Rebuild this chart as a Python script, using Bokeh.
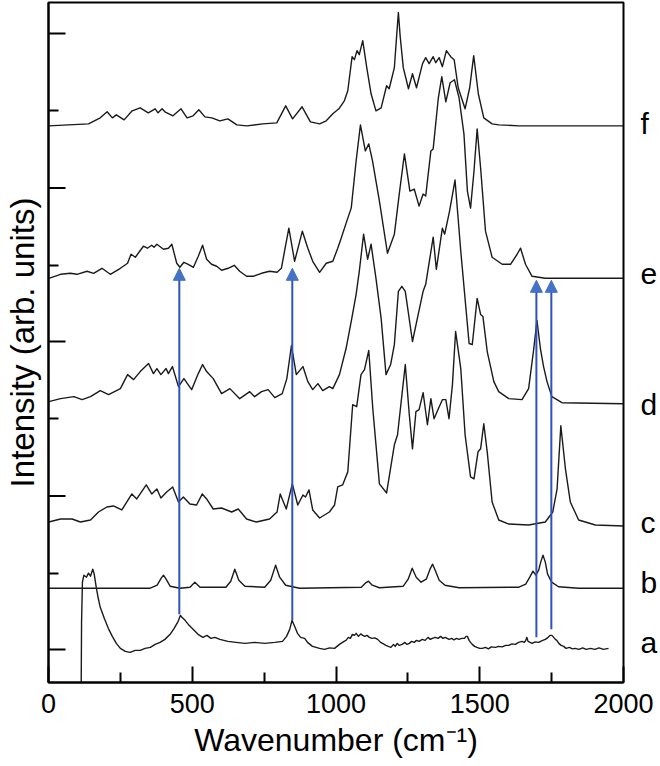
from bokeh.plotting import figure
from bokeh.models import FixedTicker, Range1d, Arrow, NormalHead, LinearAxis
from bokeh.embed import file_html
from bokeh.resources import INLINE

# ---------------- data (wavenumber, stacked intensity in arb. units) ----------------
a_wn = [113, 115, 118, 123, 132, 139, 146, 154, 159, 166, 173, 180, 194, 208, 222, 236, 250, 267, 284,
        302, 319, 336, 354, 371, 388, 405, 423, 437, 451, 459, 464, 475, 489, 503, 520, 537, 551, 565,
        579, 596, 624, 652, 683, 717, 752, 787, 814, 828, 839, 847, 856, 866, 877, 891, 901, 918,
        943, 960, 978, 995, 1012, 1020, 1028, 1035, 1043, 1050, 1057, 1064, 1070, 1078, 1086, 1093,
        1100, 1108, 1116, 1125, 1135, 1145, 1155, 1165, 1174, 1182, 1191, 1200, 1206, 1213, 1220,
        1230, 1240, 1247, 1255, 1263, 1272, 1280, 1289, 1300, 1310, 1320, 1328, 1335, 1345, 1355,
        1364, 1372, 1380, 1393, 1402, 1410, 1419, 1428, 1437, 1447, 1452, 1457, 1463, 1468, 1474,
        1482, 1490, 1500, 1509, 1520, 1530, 1540, 1555, 1565, 1578, 1590, 1601, 1612, 1624, 1635,
        1647, 1655, 1660, 1664, 1668, 1675, 1682, 1693, 1705, 1715, 1728, 1738, 1745, 1751, 1757,
        1763, 1768, 1775, 1783, 1792, 1800, 1812, 1822, 1832, 1845, 1858, 1870, 1885, 1900, 1915,
        1930, 1948]
a_int = [-40, 60, 100, 107, 105, 109, 106, 113, 108, 95, 84, 75, 64, 54, 46, 39, 34, 31, 30,
         32, 32, 34, 35, 38, 40, 43, 48, 54, 61, 67, 65, 62, 57, 53, 48, 45, 47, 44,
         45, 43, 41, 40, 39, 40, 39, 40, 41, 46, 53, 62, 56, 49, 45, 44, 40, 36,
         34, 33, 34.5, 34, 38, 39.5, 41, 42, 45, 44, 48, 47, 49, 46, 48.5, 47,
         46, 47, 45, 44, 44.5, 43, 40, 38.5, 37, 36, 35, 38, 36, 39, 37,
         38, 40, 38, 39, 41, 40, 42, 41, 43, 42, 45, 43, 44, 45, 44,
         46, 44, 45, 43, 44, 42.5, 44, 43, 44, 44, 46, 46, 42, 40, 38,
         36, 35, 34, 34, 35, 33.5, 35.5, 35, 36, 35.5, 37, 37, 38.5, 38, 40,
         41, 40, 42, 45, 41, 40, 39, 40.5, 40, 41.5, 43, 45, 47, 47, 45,
         43, 42, 39, 37, 36, 34, 35, 33.5, 34, 33, 34.5, 33, 34, 33, 34.5,
         33, 34]

b_wn = [0, 354, 378, 392, 400, 409, 423, 457, 492, 509, 527, 617, 634, 648, 662, 683, 752, 773, 790,
        804, 825, 873, 1088, 1102, 1113, 1126, 1151, 1234, 1251, 1265, 1279, 1296, 1314, 1327, 1336,
        1345, 1359, 1379, 1428, 1636, 1660, 1674, 1685, 1695, 1705, 1712, 1720, 1728, 1736, 1750,
        1774, 1844, 2000]
b_int = [94, 94, 97, 104, 107, 103, 96, 94, 95, 100, 95, 95, 101, 113, 102, 96, 95, 102, 117,
         105, 97, 94, 95, 99, 101, 97, 94.5, 96, 103, 114, 105, 100, 103, 113, 118,
         112, 102, 97, 94.5, 95, 98, 105, 111, 107, 112, 120, 127, 120, 108, 100,
         95.5, 94, 94]

c_wn = [1, 42, 82, 111, 146, 174, 203, 226, 255, 290, 307, 340, 359, 377, 391, 411, 432, 452, 469,
        492, 515, 535, 550, 573, 602, 637, 660, 689, 723, 769, 795, 806, 827, 848, 867, 885, 894,
        906, 919, 943, 977, 995, 1006, 1023, 1041, 1058, 1072, 1087, 1099, 1114, 1128, 1151, 1176,
        1203, 1214, 1241, 1255, 1266, 1278, 1289, 1303, 1318, 1330, 1341, 1356, 1370, 1382, 1393,
        1405, 1416, 1434, 1449, 1468, 1480, 1494, 1503, 1514, 1526, 1543, 1566, 1601, 1670, 1728,
        1754, 1769, 1782, 1798, 1815, 1844, 1902, 2000]
c_int = [160, 163, 163, 160, 162, 170, 175, 176, 172, 188, 183, 197, 188, 193, 184, 190, 195, 180, 185,
         178, 177, 188, 183, 173, 174, 170, 173, 163, 160, 163, 170, 188, 173, 198, 177, 187, 185,
         192, 172, 164, 170, 177, 195, 197, 210, 277, 275, 307, 312, 331, 273, 198, 189,
         237, 247, 317, 267, 233, 270, 272, 289, 257, 283, 263, 273, 282, 282, 263,
         297, 350, 313, 247, 205, 203, 230, 233, 258, 230, 180, 162, 158, 157, 160,
         170, 193, 256, 213, 180, 162, 157, 156]

d_wn = [1, 42, 88, 117, 146, 180, 209, 250, 275, 296, 319, 348, 365, 377, 391, 409, 417, 431, 452,
        471, 498, 521, 536, 550, 573, 602, 631, 665, 700, 717, 741, 764, 787, 813, 829, 845, 862,
        885, 902, 919, 937, 954, 977, 989, 1012, 1035, 1053, 1070, 1081, 1096, 1110, 1122, 1139,
        1157, 1174, 1190, 1203, 1217, 1229, 1241, 1266, 1283, 1303, 1312, 1338, 1349, 1370, 1378,
        1395, 1414, 1434, 1463, 1474, 1491, 1503, 1511, 1526, 1549, 1566, 1601, 1647, 1670, 1688,
        1699, 1711, 1722, 1734, 1751, 1786, 2000]
d_int = [280, 283, 285, 282, 285, 291, 287, 293, 307, 302, 310, 318, 308, 313, 307, 313, 308, 315, 295,
         303, 292, 308, 317, 310, 303, 288, 293, 283, 290, 285, 290, 292, 284, 288, 303, 336, 307,
         315, 300, 292, 298, 291, 295, 293, 307, 333, 360, 387, 410, 447, 422, 437, 403,
         363, 307, 317, 337, 390, 395, 390, 340, 363, 390, 397, 444, 412, 453, 447,
         470, 501, 430, 338, 337, 383, 367, 365, 330, 300, 290, 283, 282, 293, 333,
         361, 333, 315, 300, 285, 279, 278]

e_wn = [1, 42, 76, 99, 134, 157, 186, 215, 250, 275, 287, 302, 330, 344, 359, 367, 377, 400, 417,
        429, 446, 457, 471, 486, 504, 521, 536, 550, 567, 585, 602, 625, 646, 665, 689, 712, 741,
        769, 795, 810, 821, 836, 856, 883, 902, 919, 943, 966, 989, 1006, 1018, 1041, 1053, 1070,
        1085, 1102, 1114, 1127, 1151, 1179, 1203, 1220, 1238, 1257, 1272, 1289, 1303, 1312, 1330,
        1338, 1356, 1368, 1382, 1397, 1412, 1428, 1445, 1457, 1468, 1480, 1491, 1503, 1520, 1543,
        1578, 1607, 1630, 1642, 1659, 1682, 1728, 2000]
e_int = [403, 407, 408, 407, 410, 408, 413, 407, 413, 418, 427, 424, 435, 433, 436, 434, 437, 432, 433,
         437, 418, 414, 419, 417, 414, 425, 436, 422, 417, 415, 411, 413, 416, 410, 405, 405, 408,
         410, 409, 413, 430, 453, 420, 450, 433, 420, 409, 418, 420, 433, 443, 463, 473, 520,
         556, 530, 537, 520, 480, 428, 447, 487, 527, 490, 492, 475, 487, 485, 530,
         532, 583, 604, 579, 598, 601, 583, 547, 490, 473, 510, 552, 513, 450, 424,
         417, 417, 427, 433, 417, 405, 403, 403]

f_wn = [1, 139, 180, 204, 222, 236, 263, 291, 319, 347, 371, 381, 395, 405, 433, 461, 482, 503, 523,
        544, 568, 596, 624, 655, 690, 745, 794, 825, 849, 882, 911, 943, 966, 989, 1010, 1029, 1041,
        1056, 1064, 1073, 1081, 1093, 1107, 1122, 1139, 1157, 1176, 1185, 1203, 1211, 1217, 1223,
        1234, 1252, 1266, 1280, 1301, 1312, 1324, 1338, 1347, 1359, 1370, 1384, 1399, 1411, 1425,
        1449, 1465, 1479, 1495, 1514, 1543, 1566, 1636, 2000]
f_int = [555, 557, 563, 569, 563, 566, 561, 570, 573, 568, 572, 568, 572, 569, 565, 572, 563, 565, 571,
         564, 563, 560, 562, 556, 555, 557, 558, 575, 562, 574, 559, 557, 560, 567, 572, 580, 590,
         624, 621, 630, 626, 640, 613, 587, 570, 573, 595, 592, 613, 645, 668, 645,
         613, 592, 607, 593, 617, 623, 617, 624, 618, 623, 614, 630, 624, 621, 593,
         572, 593, 625, 587, 563, 557, 556, 555, 555]

spectra_wn = [a_wn, b_wn, c_wn, d_wn, e_wn, f_wn]
spectra_int = [a_int, b_int, c_int, d_int, e_int, f_int]
spectra_names = ["a", "b", "c", "d", "e", "f"]
name_pos = [40, 100, 160, 277, 408, 557]

arrow_x = [455, 848, 1697, 1749]
arrow_y0 = [68, 62, 45, 53]
arrow_y1 = [413, 413, 401, 401]

x_ticks = [0, 500, 1000, 1500, 2000]
x_minor = [250, 750, 1250, 1750]
y_ticks = [33, 186, 340, 493, 647]
y_minor = [109, 263, 416, 570]

FONT = "Liberation Sans"

p = figure(width=660, height=766, output_backend="svg", toolbar_location=None,
           x_range=Range1d(0, 2000), y_range=Range1d(0, 678),
           min_border_left=48, min_border_right=36, min_border_top=2, min_border_bottom=84)
p.grid.visible = False
p.background_fill_color = "white"
p.border_fill_color = "white"
p.outline_line_color = "black"
p.outline_line_width = 2
p.outline_line_alpha = 1

xa = p.xaxis[0]
xa.ticker = FixedTicker(ticks=x_ticks, minor_ticks=x_minor)
xa.major_tick_in = 16
xa.major_tick_out = 0
xa.minor_tick_in = 10
xa.minor_tick_out = 0
xa.major_tick_line_width = 2
xa.minor_tick_line_width = 2
xa.axis_line_width = 2
xa.major_label_text_font = FONT
xa.major_label_text_font_size = "27px"
xa.major_label_text_color = "black"
xa.major_label_standoff = 11
xa.axis_label = "Wavenumber (cm\u207b\u00b9)"
xa.axis_label_text_font = FONT
xa.axis_label_text_font_size = "32px"
xa.axis_label_text_font_style = "normal"
xa.axis_label_text_color = "black"
xa.axis_label_standoff = 6

# left axis: no tick labels; short ticks drawn as minor ticks, long ticks as screen-length rays
ya = p.yaxis[0]
ya.ticker = FixedTicker(ticks=[], minor_ticks=y_minor)
ya.minor_tick_in = 10
ya.minor_tick_out = 0
ya.minor_tick_line_width = 2
ya.major_tick_in = 0
ya.major_tick_out = 0
ya.axis_line_width = 2
ya.major_label_standoff = 0
ya.axis_label = "Intensity (arb. units)"
ya.axis_label_text_font = FONT
ya.axis_label_text_font_size = "33px"
ya.axis_label_text_font_style = "normal"
ya.axis_label_text_color = "black"
ya.axis_label_standoff = 8

p.ray(x=[p.x_range.start] * len(y_ticks), y=y_ticks, length=17, length_units="screen",
      angle=0, line_color="black", line_width=2)

# right axis used only to write the spectrum letters
ra = LinearAxis(ticker=FixedTicker(ticks=name_pos, minor_ticks=[]),
                major_label_overrides={pos: n for pos, n in zip(name_pos, spectra_names)})
ra.axis_line_color = None
ra.major_tick_line_color = None
ra.minor_tick_line_color = None
ra.major_tick_in = 0
ra.major_tick_out = 0
ra.major_label_standoff = 17
ra.major_label_text_font = FONT
ra.major_label_text_font_size = "30px"
ra.major_label_text_color = "black"
p.add_layout(ra, "right")

for wn, inten in zip(spectra_wn, spectra_int):
    p.line(wn, inten, line_color="#1a1a1a", line_width=1.4, line_join="round")

for x0, y0, y1 in zip(arrow_x, arrow_y0, arrow_y1):
    p.add_layout(Arrow(end=NormalHead(size=12, fill_color="#4472c4", line_color="#4472c4", line_width=1),
                       x_start=x0, y_start=y0, x_end=x0, y_end=y1,
                       line_color="#2f52bd", line_width=2))

open("out.html", "w").write(file_html(p, INLINE))
